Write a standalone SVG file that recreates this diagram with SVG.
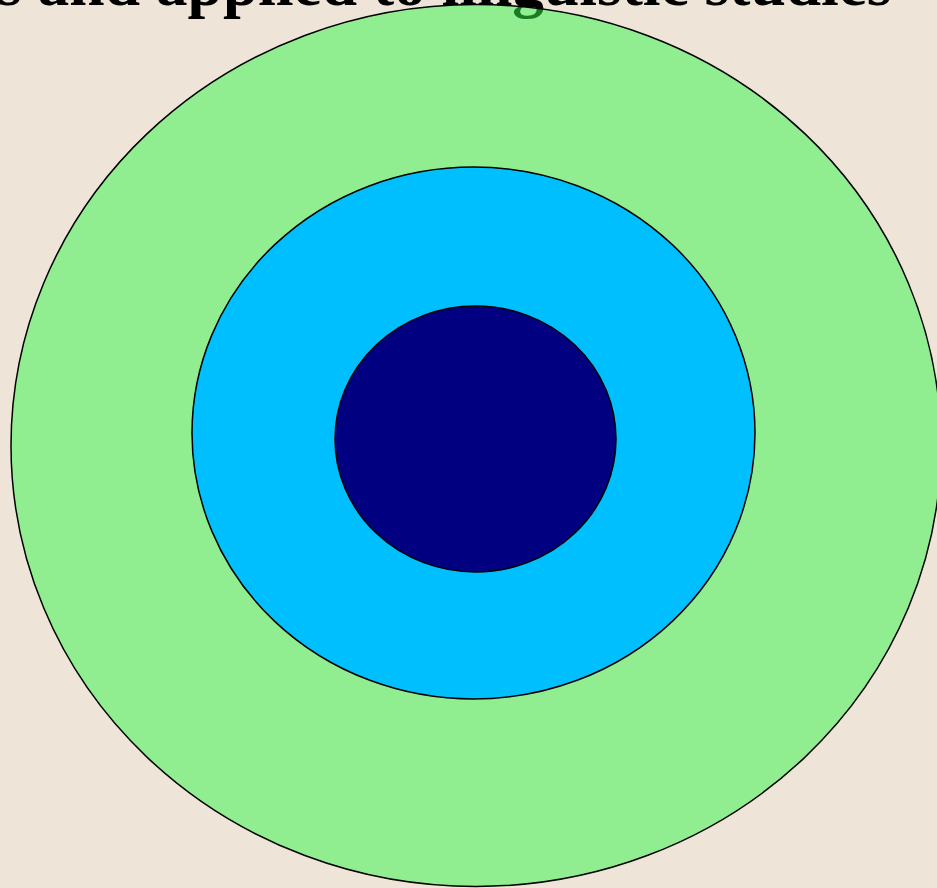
<svg xmlns="http://www.w3.org/2000/svg" width="937" height="888" viewBox="0 0 937 888">
<style>
.title{font-family:"Liberation Serif","Times New Roman",serif;font-weight:bold;font-size:63.5px;fill:#000}
.ring{stroke:#000;stroke-width:1.5}
</style>
<rect width="937" height="888" fill="#EEE5D8"/>
<text class="title" x="-3" y="5">s and applied to linguistic studies</text>
<g id="outer"><ellipse class="ring" cx="476" cy="445.5" rx="465" ry="441" fill="#32F748" fill-opacity="0.5"/></g>
<g id="middle"><ellipse class="ring" cx="473.5" cy="433" rx="281.5" ry="266" fill="#00BFFF"/></g>
<g id="inner"><ellipse class="ring" cx="475.5" cy="439" rx="140.5" ry="133" fill="#000080"/></g>
<g id="connectors"/>
</svg>
